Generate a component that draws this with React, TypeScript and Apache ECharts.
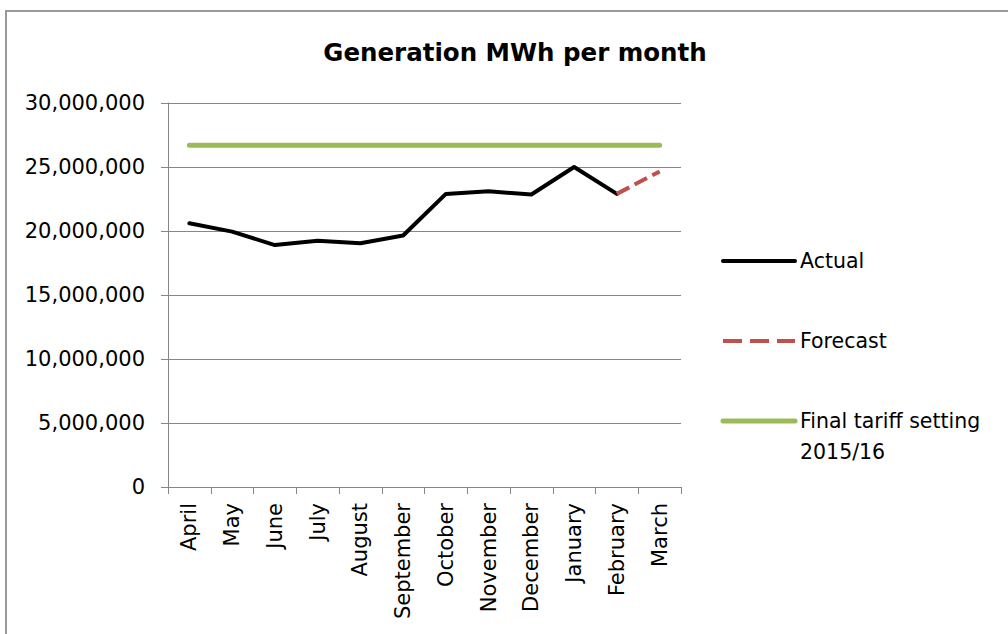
import React, { useEffect, useRef } from "react";
import * as echarts from "echarts";

const months = ["April", "May", "June", "July", "August", "September", "October", "November", "December", "January", "February", "March"];
const actual = [20600000, 19950000, 18900000, 19230000, 19050000, 19650000, 22900000, 23100000, 22850000, 25000000, 22900000, null];
const forecast = [null, null, null, null, null, null, null, null, null, null, 22900000, 24650000];
const tariff = [26700000, 26700000, 26700000, 26700000, 26700000, 26700000, 26700000, 26700000, 26700000, 26700000, 26700000, 26700000];
const legendNames = ["Actual", "Forecast", "Final tariff setting\n2015/16"];

const FONT = "DejaVu Sans";

export default function App() {
  const ref = useRef<HTMLDivElement>(null);
  useEffect(() => {
    if (!ref.current) return;
    const chart = echarts.init(ref.current, null, { renderer: "svg" });
    const legendColors = ["#000000", "#C0504D", "#9BBB59"];
    const legendDash: any[] = [null, [19, 8], null];
    const legendY = [261, 341, 421];
    const legendGraphics: any[] = [];
    legendNames.forEach((n, i) => {
      legendGraphics.push({
        type: "line",
        shape: { x1: 723, y1: legendY[i], x2: 795, y2: legendY[i] },
        style: { stroke: legendColors[i], lineWidth: i === 2 ? 5 : 4, lineDash: legendDash[i], lineCap: i === 1 ? "butt" : "round" },
      });
      legendGraphics.push({
        type: "text",
        x: 800,
        y: legendY[i] - 15.5,
        style: { text: n, font: `20.5px '${FONT}'`, fill: "#000", lineHeight: 31, verticalAlign: "top" },
      });
    });
    chart.setOption({
      animation: false,
      title: {
        text: "Generation MWh per month",
        left: 510,
        textAlign: "center",
        top: 35,
        textStyle: { fontFamily: FONT, fontWeight: "bold", fontSize: 24.5, color: "#000" },
      },
      grid: { left: 168, right: 327, top: 103, bottom: 147, containLabel: false },
      xAxis: {
        type: "category",
        data: months,
        boundaryGap: true,
        axisLine: { lineStyle: { color: "#868686", width: 1 } },
        axisTick: { show: true, length: 7, alignWithLabel: false, lineStyle: { color: "#868686" } },
        axisLabel: { rotate: 90, margin: 16, interval: 0, fontFamily: FONT, fontSize: 21, color: "#000" },
      },
      yAxis: {
        type: "value",
        min: 0,
        max: 30000000,
        interval: 5000000,
        axisLine: { show: true, lineStyle: { color: "#868686", width: 1 } },
        axisTick: { show: true, length: 7, inside: false, lineStyle: { color: "#868686" } },
        splitLine: { show: true, lineStyle: { color: "#868686", width: 1 } },
        axisLabel: {
          margin: 23,
          fontFamily: FONT,
          fontSize: 21,
          color: "#000",
          formatter: (v: number) => v.toLocaleString("en-US"),
        },
      },
      series: [
        {
          name: "Final tariff setting 2015/16",
          type: "line",
          data: tariff,
          symbol: "none",
          lineStyle: { color: "#9BBB59", width: 5, cap: "round" },
          z: 2,
        },
        {
          name: "Actual",
          type: "line",
          data: actual,
          symbol: "none",
          lineStyle: { color: "#000000", width: 4, cap: "round", join: "round" },
          z: 3,
        },
        {
          name: "Forecast",
          type: "line",
          data: forecast,
          symbol: "none",
          lineStyle: { color: "#C0504D", width: 4, type: [14, 6] },
          z: 4,
        },
      ],
      graphic: [
        {
          type: "rect",
          shape: { x: 6, y: 11, width: 1200, height: 800 },
          style: { fill: "none", stroke: "#999999", lineWidth: 2 },
          silent: true,
        },
        ...legendGraphics,
      ],
    });
    return () => chart.dispose();
  }, []);
  return <div ref={ref} style={{ position: "fixed", left: 0, top: 0, width: 1008, height: 634, background: "#fff" }} />;
}
